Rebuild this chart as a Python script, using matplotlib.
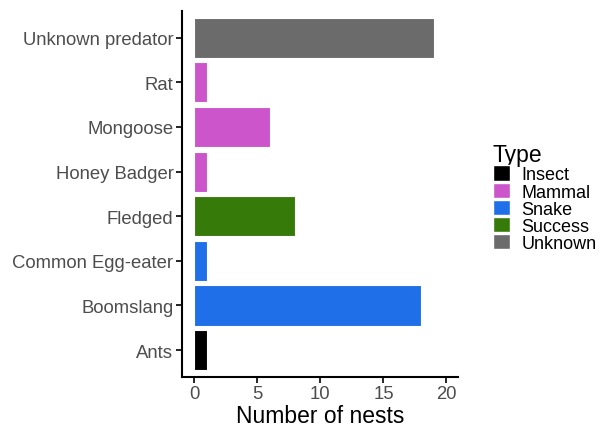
import matplotlib.pyplot as plt
from matplotlib.patches import Patch

plt.rcParams['font.family'] = ['Liberation Sans', 'DejaVu Sans']

causes = ["Ants", "Boomslang", "Common Egg-eater", "Fledged",
          "Honey Badger", "Mongoose", "Rat", "Unknown predator"]
nests = [1, 18, 1, 8, 1, 6, 1, 19]
types = ["Insect", "Snake", "Snake", "Success",
         "Mammal", "Mammal", "Mammal", "Unknown"]

type_names = ["Insect", "Mammal", "Snake", "Success", "Unknown"]
type_colors = ["#000000", "#CC55CC", "#1F6FE8", "#367A0A", "#6B6B6B"]
cmap = dict(zip(type_names, type_colors))

fig = plt.figure(figsize=(6, 4.27), dpi=100)
ax = fig.add_axes([0.303, 0.115, 0.46, 0.857])

ypos = list(range(1, len(causes) + 1))
ax.barh(ypos, nests, height=0.9, color=[cmap[t] for t in types],
        edgecolor="white", linewidth=0.8)

ax.set_yticks(ypos)
ax.set_yticklabels(causes, fontsize=13.3, color="#4D4D4D")
ax.set_xticks([0, 5, 10, 15, 20])
ax.tick_params(axis="x", labelsize=13.3, labelcolor="#4D4D4D")
ax.set_xlim(-1.0, 20.9)
ax.set_ylim(0.4, 8.6)
ax.set_xlabel("Number of nests", fontsize=16.5, labelpad=1)

for s in ["top", "right"]:
    ax.spines[s].set_visible(False)
for s in ["left", "bottom"]:
    ax.spines[s].set_linewidth(1.5)
ax.tick_params(length=4, width=1.2, pad=2)

handles = [Patch(facecolor=c, edgecolor="white", label=n)
           for n, c in zip(type_names, type_colors)]
fig.legend(handles=handles, title="Type", loc="center left",
           bbox_to_anchor=(0.8, 0.535), frameon=False, fontsize=13,
           title_fontsize=16.5, handlelength=0.95, handleheight=0.95,
           handletextpad=0.65, labelspacing=-0.05, alignment="left",
           borderpad=0.2)

fig.savefig("out.png")
